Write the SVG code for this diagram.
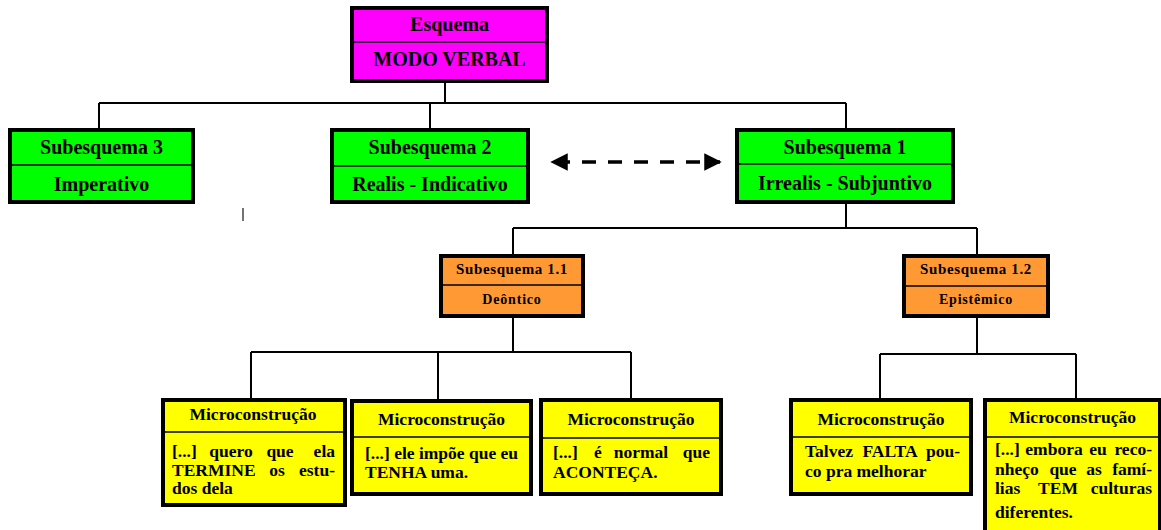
<svg xmlns="http://www.w3.org/2000/svg" width="1161" height="530" viewBox="0 0 1161 530">
<defs>
<style>
.box{stroke:#000;stroke-width:4}
.div{stroke:#000;stroke-width:1.5}
.mag{fill:#FF00FF}
.grn{fill:#00FF00}
.org{fill:#FF9933}
.yel{fill:#FFFF00}
text{font-family:"Liberation Serif","Times New Roman",serif;font-weight:bold;fill:#000}
.t20{font-size:20px;text-anchor:middle}
.t15{font-size:15px;letter-spacing:0.6px;text-anchor:middle}
.t14{font-size:14px;letter-spacing:0.8px;text-anchor:middle}
.mt{font-size:17.5px;text-anchor:middle}
.bd{font-size:17.5px}
.mid{text-anchor:middle}
.end{text-anchor:end}
.conn{stroke:#000;stroke-width:2;fill:none}
</style>
<marker id="ah" viewBox="0 0 10 10" refX="9" refY="5" markerWidth="5" markerHeight="5" markerUnits="strokeWidth" orient="auto-start-reverse">
<path d="M0,0 L10,5 L0,10 z" fill="#000"/>
</marker>
</defs>
<rect width="1161" height="530" fill="#fff"/>

<g id="connectors">
<path class="conn" d="M445,83 V103 M99,103 H846 M99,103 V128 M430,103 V128 M846,103 V128"/>
<path class="conn" d="M846,204 V228 M513,228 H977 M513,228 V254 M977,228 V254"/>
<path class="conn" d="M513,318 V352 M251,352 H631 M251,352 V398 M438,352 V399 M631,352 V398"/>
<path class="conn" d="M977,318 V354 M880,354 H1076 M880,354 V398 M1076,354 V398"/>
<line x1="552" y1="162" x2="720" y2="162" stroke="#000" stroke-width="3.5" stroke-dasharray="14,12" stroke-dashoffset="-4" marker-start="url(#ah)" marker-end="url(#ah)"/>
<line x1="243" y1="208" x2="243" y2="221" stroke="#444" stroke-width="1.5"/>
</g>

<g id="esquema">
<rect class="box mag" x="352" y="8" width="195" height="73"/>
<line class="div" x1="352" y1="42" x2="547" y2="42"/>
<text class="t20" x="449.5" y="31">Esquema</text>
<text class="t20" x="449.5" y="66">MODO VERBAL</text>
</g>

<g id="sub3">
<rect class="box grn" x="10" y="130" width="183" height="72"/>
<line class="div" x1="10" y1="165" x2="193" y2="165"/>
<text class="t20" x="101.5" y="154">Subesquema 3</text>
<text class="t20" x="101.5" y="191">Imperativo</text>
</g>

<g id="sub2">
<rect class="box grn" x="332" y="130" width="196" height="72"/>
<line class="div" x1="332" y1="166" x2="528" y2="166"/>
<text class="t20" x="430" y="154">Subesquema 2</text>
<text class="t20" x="430" y="191">Realis - Indicativo</text>
</g>

<g id="sub1">
<rect class="box grn" x="737" y="130" width="216" height="72"/>
<line class="div" x1="737" y1="164" x2="953" y2="164"/>
<text class="t20" x="845" y="154">Subesquema 1</text>
<text class="t20" x="845" y="190">Irrealis - Subjuntivo</text>
</g>

<g id="sub11">
<rect class="box org" x="441" y="256" width="142" height="60"/>
<line class="div" x1="441" y1="285" x2="583" y2="285"/>
<text class="t15" x="512" y="274">Subesquema 1.1</text>
<text class="t14" x="512" y="304">Deôntico</text>
</g>

<g id="sub12">
<rect class="box org" x="904" y="256" width="144" height="60"/>
<line class="div" x1="904" y1="286" x2="1048" y2="286"/>
<text class="t15" x="976" y="274">Subesquema 1.2</text>
<text class="t14" x="976" y="304">Epistêmico</text>
</g>

<g id="micro1">
<rect class="box yel" x="163" y="400" width="182" height="105"/>
<line class="div" x1="163" y1="432" x2="345" y2="432"/>
<text class="mt" x="253" y="420">Microconstrução</text>
<text class="bd" x="172" y="457">[...]</text>
<text class="bd mid" y="457"><tspan x="231">quero</tspan><tspan x="280">que</tspan></text>
<text class="bd end" x="335" y="457">ela</text>
<text class="bd" x="172" y="476">TERMINE</text>
<text class="bd mid" x="277" y="476">os</text>
<text class="bd end" x="335" y="476">estu-</text>
<text class="bd" x="172" y="494">dos dela</text>
</g>

<g id="micro2">
<rect class="box yel" x="352" y="401" width="179" height="93"/>
<line class="div" x1="352" y1="437" x2="531" y2="437"/>
<text class="mt" x="441.5" y="425">Microconstrução</text>
<text class="bd" x="365" y="459">[...] ele impõe que eu</text>
<text class="bd" x="365" y="478">TENHA uma.</text>
</g>

<g id="micro3">
<rect class="box yel" x="541" y="400" width="180" height="94"/>
<line class="div" x1="541" y1="438" x2="721" y2="438"/>
<text class="mt" x="631" y="425">Microconstrução</text>
<text class="bd" x="553" y="458">[...]</text>
<text class="bd mid" y="458"><tspan x="598">é</tspan><tspan x="641">normal</tspan></text>
<text class="bd end" x="710" y="458">que</text>
<text class="bd" x="553" y="478">ACONTEÇA.</text>
</g>

<g id="micro4">
<rect class="box yel" x="791" y="400" width="180" height="94"/>
<line class="div" x1="791" y1="437" x2="971" y2="437"/>
<text class="mt" x="881" y="425">Microconstrução</text>
<text class="bd" x="805" y="457">Talvez</text>
<text class="bd mid" x="890" y="457">FALTA</text>
<text class="bd end" x="960" y="457">pou-</text>
<text class="bd" x="805" y="477">co pra melhorar</text>
</g>

<g id="micro5">
<rect class="box yel" x="985" y="400" width="175" height="140"/>
<line class="div" x1="985" y1="437" x2="1160" y2="437"/>
<text class="mt" x="1072.5" y="423">Microconstrução</text>
<text class="bd" x="995" y="455">[...]</text>
<text class="bd mid" y="455"><tspan x="1054">embora</tspan><tspan x="1098">eu</tspan></text>
<text class="bd end" x="1152" y="455">reco-</text>
<text class="bd" x="995" y="475">nheço</text>
<text class="bd mid" y="475"><tspan x="1063">que</tspan><tspan x="1094">as</tspan></text>
<text class="bd end" x="1152" y="475">famí-</text>
<text class="bd" x="995" y="494">lias</text>
<text class="bd mid" x="1058" y="494">TEM</text>
<text class="bd end" x="1152" y="494">culturas</text>
<text class="bd" x="995" y="518">diferentes.</text>
</g>
</svg>
